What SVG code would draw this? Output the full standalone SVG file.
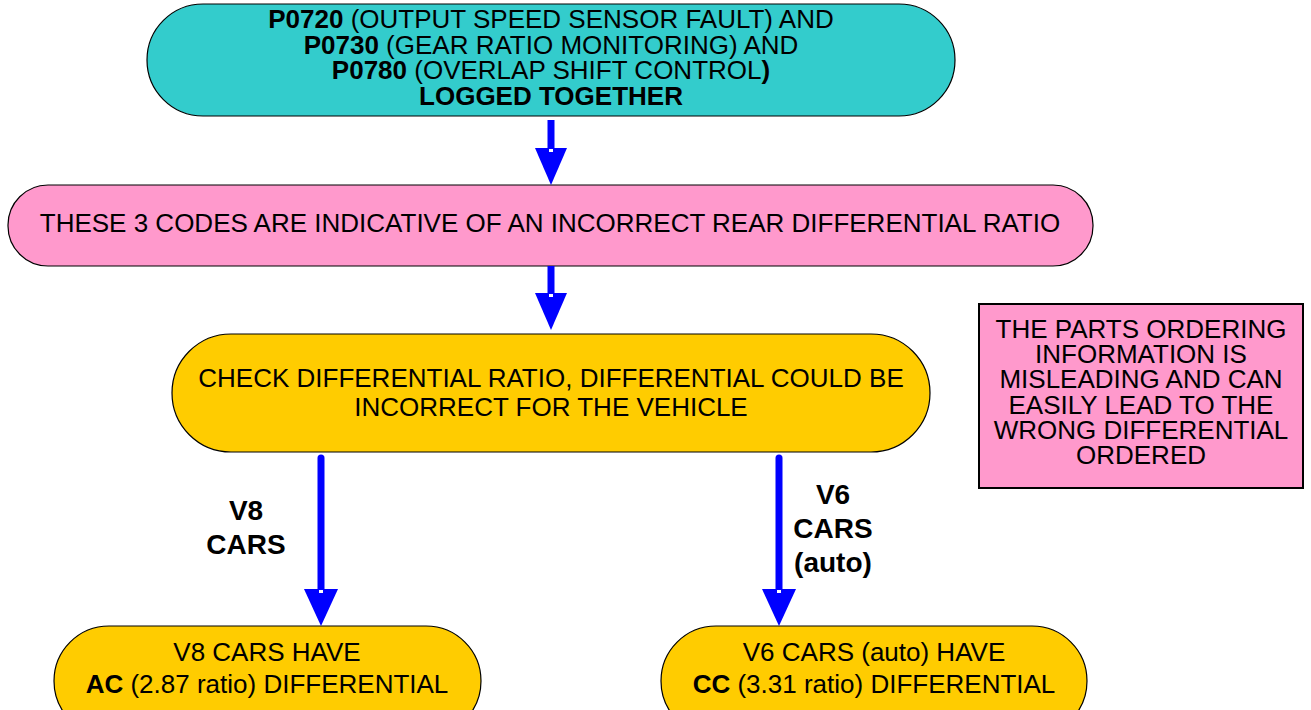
<svg xmlns="http://www.w3.org/2000/svg" width="1311" height="710" viewBox="0 0 1311 710">
<style>
text{font-family:"Liberation Sans",Arial,sans-serif;fill:#000;text-anchor:middle;font-size:26px}
.b{font-weight:bold}
.node{stroke:#000;stroke-width:1.2}
.conn{stroke:#0000FF;stroke-width:7;fill:none}
.lbl{font-weight:bold;font-size:28px}
.gap{fill:#fff}
</style>
<defs>
<marker id="ah" markerUnits="userSpaceOnUse" markerWidth="37" markerHeight="32" refX="0" refY="16" orient="auto" viewBox="0 0 37 32">
<path d="M0,0 L37,16 L0,32 Z" fill="#0000FF"/>
</marker>
<marker id="ah2" markerUnits="userSpaceOnUse" markerWidth="37" markerHeight="34" refX="0" refY="17" orient="auto" viewBox="0 0 37 34">
<path d="M0,0 L37,17 L0,34 Z" fill="#0000FF"/>
</marker>
</defs>
<rect width="1311" height="710" fill="#fff"/>
<g id="n1">
<rect class="node" x="147" y="4" width="808" height="112" rx="56" fill="#33CCCC"/>
<text x="551" y="28"><tspan class="b">P0720</tspan> (OUTPUT SPEED SENSOR FAULT) AND</text>
<text x="551" y="53.5"><tspan class="b">P0730</tspan> (GEAR RATIO MONITORING) AND</text>
<text x="551" y="79"><tspan class="b">P0780</tspan> (OVERLAP SHIFT CONTROL<tspan class="b">)</tspan></text>
<text x="551" y="104.5" class="b">LOGGED TOGETHER</text>
</g>
<g id="n2">
<rect class="node" x="8" y="185" width="1085" height="81" rx="40" fill="#FF99CC"/>
<text x="550" y="232">THESE 3 CODES ARE INDICATIVE OF AN INCORRECT REAR DIFFERENTIAL RATIO</text>
</g>
<g id="n3">
<rect class="node" x="172" y="334" width="758" height="118" rx="59" fill="#FFCC00"/>
<text x="551" y="387">CHECK DIFFERENTIAL RATIO, DIFFERENTIAL COULD BE</text>
<text x="551" y="416">INCORRECT FOR THE VEHICLE</text>
</g>
<g id="n4">
<rect class="node" x="54" y="626" width="427" height="110" rx="55" fill="#FFCC00"/>
<text x="267" y="661">V8 CARS HAVE</text>
<text x="267" y="693"><tspan class="b">AC</tspan> (2.87 ratio) DIFFERENTIAL</text>
</g>
<g id="n5">
<rect class="node" x="661" y="626" width="426" height="110" rx="55" fill="#FFCC00"/>
<text x="874" y="661">V6 CARS (auto) HAVE</text>
<text x="874" y="693"><tspan class="b">CC</tspan> (3.31 ratio) DIFFERENTIAL</text>
</g>
<g id="note">
<rect x="979" y="304" width="324" height="184" fill="#FF99CC" stroke="#000" stroke-width="2"/>
<text x="1141" y="338">THE PARTS ORDERING</text>
<text x="1141" y="363">INFORMATION IS</text>
<text x="1141" y="388">MISLEADING AND CAN</text>
<text x="1141" y="414">EASILY LEAD TO THE</text>
<text x="1141" y="439">WRONG DIFFERENTIAL</text>
<text x="1141" y="464">ORDERED</text>
</g>
<g id="connectors">
<line class="conn" x1="551" y1="120" x2="551" y2="148" marker-end="url(#ah)"/>
<line class="conn" x1="551" y1="266" x2="551" y2="293" marker-end="url(#ah)"/>
<line class="conn" x1="321" y1="458" x2="321" y2="589" stroke-linecap="round" marker-end="url(#ah2)"/>
<line class="conn" x1="779" y1="458" x2="779" y2="589" stroke-linecap="round" marker-end="url(#ah2)"/>
<rect class="gap" x="549" y="149" width="4" height="3"/>
<rect class="gap" x="549" y="294" width="4" height="3"/>
<rect class="gap" x="319" y="590" width="4" height="3"/>
<rect class="gap" x="777" y="590" width="4" height="3"/>
<text class="lbl" x="246" y="520">V8</text>
<text class="lbl" x="246" y="554">CARS</text>
<text class="lbl" x="833" y="504">V6</text>
<text class="lbl" x="833" y="538">CARS</text>
<text class="lbl" x="833" y="572">(auto)</text>
</g>
</svg>
